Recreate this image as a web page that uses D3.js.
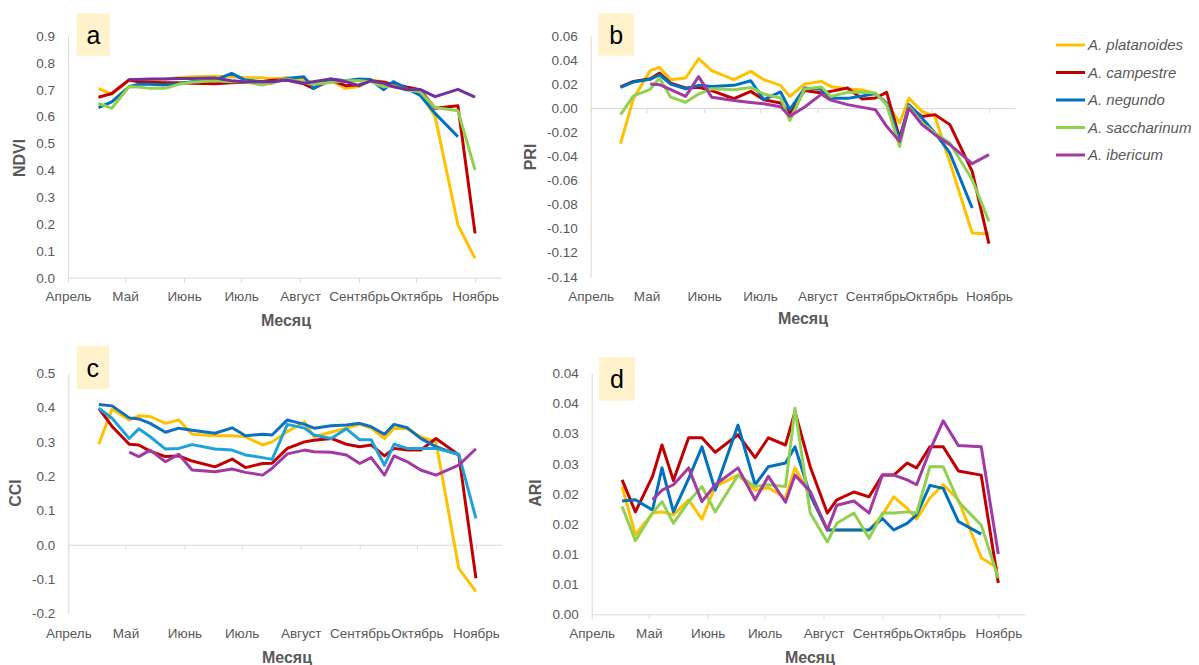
<!DOCTYPE html>
<html>
<head>
<meta charset="utf-8">
<script src="https://cdn.jsdelivr.net/npm/d3@7"></script>
<style>
  body { margin: 0; background: #fff; }
  svg { display: block; }
  text { font-family: "Liberation Sans", Arial, sans-serif; }
</style>
</head>
<body>
<svg id="chart" width="1199" height="665"></svg>
<script>
// observation dates (same for every index)
const dates = ["04-17","04-24","05-03","05-08","05-14","05-22","05-29","06-05","06-17","06-26",
  "07-03","07-12","07-17","07-25","08-03","08-08","08-17","08-25","09-01","09-07",
  "09-14","09-19","09-26","10-03","10-11","10-23","11-01"];
const monthStarts = ["04-01","05-01","06-01","07-01","08-01","09-01","10-01","11-01"];
const monthLabels = ["Апрель","Май","Июнь","Июль","Август","Сентябрь","Октябрь","Ноябрь"];
const species = ["A. platanoides","A. campestre","A. negundo","A. saccharinum","A. ibericum"];
const speciesColors = ["#FFC000","#C00000","#0070C0","#92D050","#A23AA3"];

// a) NDVI
const ndviPlatanoides = [0.705,0.683,0.735,0.735,0.738,0.740,0.745,0.748,0.750,0.748,0.745,0.745,0.740,0.745,0.738,0.725,0.735,0.705,0.712,0.735,0.730,0.715,0.700,0.690,0.600,0.196,0.072];
const ndviCampestre   = [0.672,0.686,0.736,0.730,0.728,0.726,0.726,0.724,0.722,0.726,0.728,0.730,0.735,0.736,0.722,0.705,0.736,0.715,0.718,0.733,0.728,0.720,0.710,0.700,0.631,0.640,0.165];
const ndviNegundo     = [0.633,0.655,0.711,0.720,0.720,0.718,0.722,0.730,0.735,0.761,0.736,0.730,0.725,0.742,0.748,0.705,0.740,0.733,0.740,0.738,0.700,0.730,0.705,0.680,0.612,0.525,null];
const ndviSaccharinum = [0.649,0.631,0.711,0.710,0.705,0.705,0.720,0.728,0.733,0.730,0.730,0.717,0.725,0.740,0.727,0.720,0.727,0.733,0.733,0.730,0.711,0.715,0.699,0.693,0.634,0.622,0.401];
const ndviIbericum    = [null,null,0.738,0.738,0.740,0.740,0.742,0.742,0.744,0.733,0.730,0.730,0.730,0.736,0.724,0.730,0.740,0.730,0.715,0.733,0.724,0.711,0.701,0.701,0.674,0.701,0.672];
const ndviTicks = [0,0.1,0.2,0.3,0.4,0.5,0.6,0.7,0.8,0.9];
const ndviTickLabels = ["0.0","0.1","0.2","0.3","0.4","0.5","0.6","0.7","0.8","0.9"];

// b) PRI
const priPlatanoides = [-0.0296,0.0080,0.0310,0.0337,0.0235,0.0249,0.0409,0.0310,0.0235,0.0304,0.0235,0.0188,0.0096,0.0199,0.0221,0.0179,0.0158,0.0150,0.0120,0.0040,-0.0124,0.0080,-0.0028,-0.0070,-0.0450,-0.1037,-0.1045];
const priCampestre   = [0.0175,0.0221,0.0243,0.0290,0.0207,0.0166,0.0171,0.0144,0.0077,0.0138,0.0069,0.0041,-0.0040,0.0146,0.0124,0.0138,0.0166,0.0075,0.0083,0.0130,-0.0249,0.0014,-0.0070,-0.0055,-0.0138,-0.0526,-0.1126];
const priNegundo     = [0.0171,0.0216,0.0238,0.0276,0.0199,0.0160,0.0188,0.0179,0.0188,0.0226,0.0069,0.0133,-0.0014,0.0166,0.0155,0.0080,0.0080,0.0100,0.0120,0.0041,-0.0263,0.0028,-0.0083,-0.0207,-0.0373,-0.0830,null];
const priSaccharinum = [-0.0055,0.0100,0.0155,0.0249,0.0090,0.0048,0.0116,0.0160,0.0152,0.0171,0.0116,0.0083,-0.0105,0.0158,0.0174,0.0096,0.0130,0.0130,0.0124,0.0028,-0.0319,0.0014,-0.0124,-0.0207,-0.0290,-0.0595,-0.0941];
const priIbericum    = [null,null,0.0199,0.0193,0.0152,0.0096,0.0260,0.0090,0.0062,0.0045,0.0035,0.0010,-0.0068,0.0008,0.0115,0.0065,0.0028,0.0005,-0.0014,-0.0152,-0.0277,0.0000,-0.0138,-0.0221,-0.0304,-0.0462,-0.0387];
const priTicks = [-0.14,-0.12,-0.10,-0.08,-0.06,-0.04,-0.02,0,0.02,0.04,0.06];
const priTickLabels = ["-0.14","-0.12","-0.10","-0.08","-0.06","-0.04","-0.02","0.00","0.02","0.04","0.06"];

// c) CCI
const cciPlatanoides = [0.293,0.396,0.364,0.376,0.374,0.354,0.364,0.322,0.318,0.318,0.315,0.291,0.300,0.330,0.358,0.315,0.328,0.340,0.351,0.340,0.310,0.340,0.338,0.315,0.300,-0.069,-0.137];
const cciCampestre   = [0.398,0.345,0.293,0.291,0.273,0.257,0.259,0.244,0.227,0.250,0.225,0.237,0.238,0.281,0.300,0.305,0.310,0.293,0.286,0.291,0.259,0.281,0.276,0.276,0.310,0.262,-0.098];
const cciNegundo     = [0.409,0.405,0.370,0.367,0.354,0.328,0.340,0.334,0.325,0.341,0.318,0.322,0.320,0.364,0.351,0.340,0.347,0.349,0.354,0.344,0.322,0.351,0.341,0.310,0.286,0.262,null];
const cciSaccharinum = [0.398,0.369,0.310,0.338,0.315,0.279,0.281,0.292,0.279,0.276,0.262,0.254,0.249,0.351,0.340,0.320,0.310,0.338,0.306,0.306,0.232,0.293,0.281,0.281,0.281,0.264,0.077];
const cciIbericum    = [null,null,0.270,0.257,0.276,0.242,0.264,0.218,0.213,0.221,0.211,0.203,0.223,0.265,0.276,0.271,0.270,0.262,0.237,0.254,0.203,0.259,0.242,0.218,0.203,0.232,0.280];
const cciTicks = [-0.2,-0.1,0,0.1,0.2,0.3,0.4,0.5];
const cciTickLabels = ["-0.2","-0.1","0.0","0.1","0.2","0.3","0.4","0.5"];

// d) ARI
const ariPlatanoides = [0.0212,0.0132,0.0168,0.0170,0.0165,0.0190,0.0158,0.0212,0.0231,0.0206,0.0210,0.0193,0.0243,0.0198,0.0140,0.0140,0.0140,0.0140,0.0165,0.0195,0.0176,0.0158,0.0193,0.0215,0.0190,0.0094,0.0076];
const ariCampestre   = [0.0223,0.0170,0.0229,0.0281,0.0222,0.0293,0.0293,0.0269,0.0298,0.0260,0.0293,0.0281,0.0336,0.0245,0.0168,0.0190,0.0203,0.0195,0.0231,0.0231,0.0251,0.0243,0.0278,0.0278,0.0238,0.0231,0.0052];
const ariNegundo     = [0.0188,0.0190,0.0173,0.0243,0.0170,0.0225,0.0278,0.0206,0.0314,0.0215,0.0245,0.0251,0.0278,0.0198,0.0140,0.0140,0.0140,0.0140,0.0159,0.0140,0.0151,0.0165,0.0214,0.0209,0.0154,0.0133,null];
const ariSaccharinum = [0.0179,0.0122,0.0168,0.0187,0.0151,0.0187,0.0212,0.0170,0.0231,0.0212,0.0215,0.0212,0.0342,0.0168,0.0120,0.0151,0.0168,0.0126,0.0168,0.0168,0.0170,0.0168,0.0245,0.0245,0.0187,0.0148,0.0060];
const ariIbericum    = [null,null,0.0190,0.0206,0.0215,0.0243,0.0187,0.0215,0.0243,0.0190,0.0229,0.0186,0.0231,0.0204,0.0140,0.0181,0.0188,0.0168,0.0231,0.0231,0.0223,0.0215,0.0272,0.0321,0.0280,0.0278,0.0100];
const ariTicks = [0,0.005,0.01,0.015,0.02,0.025,0.03,0.035,0.04];
const ariTickLabels = ["0.00","0.01","0.01","0.02","0.02","0.03","0.03","0.04","0.04"];

const svg = d3.select("#chart");
const parseDay = s => d3.timeParse("%Y-%m-%d")("2023-" + s);
const dateObjs = dates.map(parseDay);
const monthObjs = monthStarts.map(parseDay);
const axisColor = "#D9D9D9";
const textColor = "#595959";

function drawPanel(p) {
  const x = d3.scaleTime().domain([parseDay("04-01"), parseDay("11-15")]).range([p.x0, p.x1]);
  const y = d3.scaleLinear().domain(p.domain).range([p.yBottom, p.yTop]);
  const y0 = y(Math.max(0, p.domain[0]));

  // y axis
  const gy = svg.append("g")
    .attr("transform", `translate(${p.x0},0)`)
    .call(d3.axisLeft(y).tickValues(p.ticks).tickSize(0).tickPadding(13)
      .tickFormat((d, i) => p.tickLabels[i]));
  gy.select(".domain").attr("stroke", axisColor);
  gy.selectAll("text").attr("font-family", '"Liberation Sans", Arial, sans-serif')
    .attr("font-size", 13.5).attr("fill", textColor);

  // x axis at zero, labels at the bottom
  const gx = svg.append("g")
    .attr("transform", `translate(0,${y0})`)
    .call(d3.axisBottom(x).tickValues(monthObjs).tickSizeInner(5).tickSizeOuter(0)
      .tickFormat((d, i) => monthLabels[i]));
  gx.select(".domain").attr("stroke", axisColor);
  gx.selectAll(".tick line").attr("stroke", axisColor);
  gx.selectAll("text").attr("font-family", '"Liberation Sans", Arial, sans-serif')
    .attr("font-size", 13.5).attr("fill", textColor)
    .attr("y", p.labelY - y0).attr("dy", "0.35em");

  // titles
  svg.append("text").attr("x", p.xTitle[0]).attr("y", p.xTitle[1])
    .attr("text-anchor", "middle").attr("dominant-baseline", "middle")
    .attr("font-size", 16).attr("font-weight", "bold").attr("fill", textColor).text("Месяц");
  svg.append("text")
    .attr("transform", `translate(${p.yTitle[0]},${p.yTitle[1]}) rotate(-90)`)
    .attr("text-anchor", "middle").attr("dominant-baseline", "middle")
    .attr("font-size", 16).attr("font-weight", "bold").attr("fill", textColor).text(p.title);

  // panel letter
  svg.append("rect").attr("x", p.box[0]).attr("y", p.box[1])
    .attr("width", p.box[2]).attr("height", p.box[3]).attr("fill", "#FFF2CC");
  svg.append("text").attr("x", p.box[0] + p.box[2] / 2).attr("y", p.box[1] + p.box[3] / 2)
    .attr("text-anchor", "middle").attr("dominant-baseline", "central")
    .attr("font-family", '"Open Sans", sans-serif')
    .attr("font-size", 25).attr("fill", "#000").text(p.letter);

  const line = d3.line()
    .defined(d => d.v != null)
    .x(d => x(d.date))
    .y(d => y(d.v));

  p.series.forEach((vals, i) => {
    const pts = vals.map((v, j) => ({date: dateObjs[j], v: v}));
    svg.append("path")
      .datum(pts)
      .attr("d", line)
      .attr("fill", "none")
      .attr("stroke", p.colors[i])
      .attr("stroke-width", 3)
      .attr("stroke-linejoin", "round");
  });
}

drawPanel({
  x0: 68, x1: 501.7, yTop: 36, yBottom: 277.7, domain: [0, 0.9],
  ticks: ndviTicks, tickLabels: ndviTickLabels, labelY: 296.5,
  xTitle: [286, 322], yTitle: [21, 158], title: "NDVI",
  box: [76.7, 13.3, 33.3, 42.4], letter: "a",
  series: [ndviPlatanoides, ndviCampestre, ndviNegundo, ndviSaccharinum, ndviIbericum],
  colors: ["#FFC000","#C00000","#0070C0","#92D050","#7030A0"]
});

drawPanel({
  x0: 590.7, x1: 1015, yTop: 35.7, yBottom: 276.7, domain: [-0.14, 0.06],
  ticks: priTicks, tickLabels: priTickLabels, labelY: 296,
  xTitle: [803, 320], yTitle: [532, 157], title: "PRI",
  box: [598.3, 13.3, 35.7, 42.4], letter: "b",
  series: [priPlatanoides, priCampestre, priNegundo, priSaccharinum, priIbericum],
  colors: speciesColors
});

drawPanel({
  x0: 68.3, x1: 502.6, yTop: 373.3, yBottom: 613.3, domain: [-0.2, 0.5],
  ticks: cciTicks, tickLabels: cciTickLabels, labelY: 633.3,
  xTitle: [287, 659], yTitle: [17, 493], title: "CCI",
  box: [76.7, 345.7, 32.3, 43.6], letter: "c",
  series: [cciPlatanoides, cciCampestre, cciNegundo, cciSaccharinum, cciIbericum],
  colors: ["#FFC000","#C00000","#0F6FC0","#1EA2DA","#A23AA3"]
});

drawPanel({
  x0: 591.7, x1: 1024.9, yTop: 373.3, yBottom: 614.3, domain: [0, 0.04],
  ticks: ariTicks, tickLabels: ariTickLabels, labelY: 633.3,
  xTitle: [810, 659], yTitle: [537, 493], title: "ARI",
  box: [599, 357.3, 36, 43.4], letter: "d",
  series: [ariPlatanoides, ariCampestre, ariNegundo, ariSaccharinum, ariIbericum],
  colors: speciesColors
});

// legend
const legend = svg.append("g");
species.forEach((name, i) => {
  const ly = 45 + i * 27.5;
  legend.append("line").attr("x1", 1056).attr("x2", 1085).attr("y1", ly).attr("y2", ly)
    .attr("stroke", speciesColors[i]).attr("stroke-width", 3);
  legend.append("text").attr("x", 1088).attr("y", ly).attr("dy", "0.35em")
    .attr("font-size", 15).attr("font-style", "italic").attr("fill", textColor).text(name);
});
</script>
</body>
</html>
